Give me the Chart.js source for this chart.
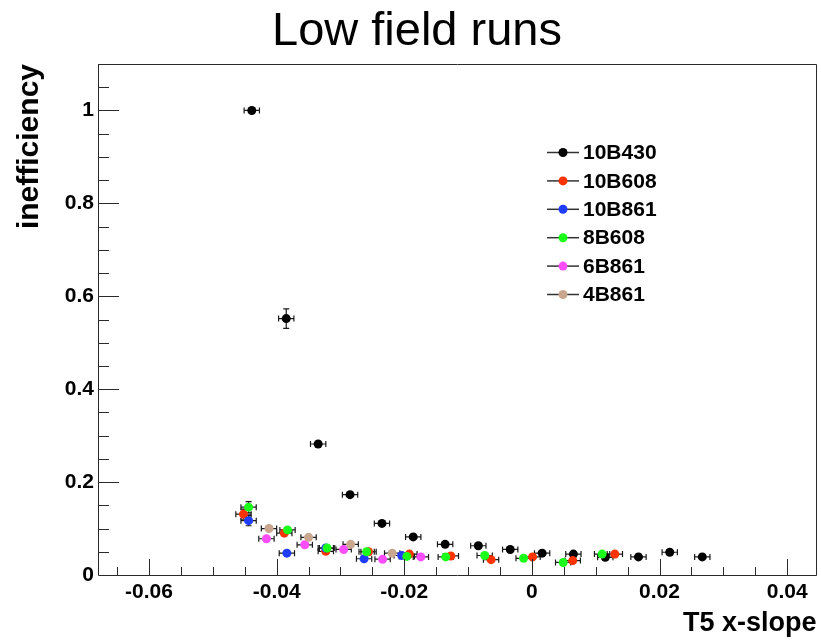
<!DOCTYPE html>
<html>
<head>
<meta charset="utf-8">
<script src="https://cdn.jsdelivr.net/npm/chart.js@4.4.0/dist/chart.umd.min.js"></script>
<style>
  body { margin: 0; background: #fff; }
  canvas { display: block; }
</style>
</head>
<body>
<canvas id="chart" width="821" height="642"></canvas>
<script>
// run names, in legend order
const seriesNames = ['10B430', '10B608', '10B861', '8B608', '6B861', '4B861'];
const seriesColors = ['#000000', '#ff3300', '#1f3dff', '#1aff1a', '#ff4dff', '#c9a78e'];

// T5 x-slope (x), inefficiency (y) and its error (yErr)
const x10B430 = [-0.0439, -0.0385, -0.0335, -0.0285, -0.0235, -0.0186, -0.0136, -0.0084, -0.0034, 0.0016, 0.0065, 0.0115, 0.0167, 0.0216, 0.0267];
const y10B430 = [1.0, 0.552, 0.282, 0.173, 0.111, 0.082, 0.066, 0.063, 0.055, 0.047, 0.045, 0.038, 0.039, 0.049, 0.039];
const e10B430 = [0.004, 0.021, 0.008, 0.006, 0.005, 0.004, 0.004, 0.004, 0.004, 0.004, 0.004, 0.004, 0.004, 0.004, 0.004];

const x10B608 = [-0.0452, -0.0388, -0.0323, -0.0256, -0.0192, -0.0127, -0.0064, 0.0001, 0.0064, 0.0130];
const y10B608 = [0.131, 0.090, 0.051, 0.050, 0.045, 0.041, 0.033, 0.039, 0.031, 0.045];
const e10B608 = [0.011, 0.006, 0.004, 0.004, 0.004, 0.004, 0.004, 0.004, 0.004, 0.004];

const x10B861 = [-0.0444, -0.0384, -0.0323, -0.0263, -0.0204];
const y10B861 = [0.117, 0.047, 0.058, 0.035, 0.042];
const e10B861 = [0.011, 0.005, 0.005, 0.004, 0.004];

const x8B608 = [-0.0444, -0.0383, -0.0321, -0.0259, -0.0196, -0.0135, -0.0074, -0.0013, 0.0049, 0.0110];
const y8B608 = [0.146, 0.097, 0.058, 0.050, 0.040, 0.039, 0.042, 0.036, 0.027, 0.045];
const e8B608 = [0.012, 0.006, 0.004, 0.004, 0.004, 0.004, 0.004, 0.004, 0.004, 0.004];

const x6B861 = [-0.0416, -0.0356, -0.0295, -0.0234, -0.0174];
const y6B861 = [0.078, 0.065, 0.055, 0.034, 0.039];
const e6B861 = [0.007, 0.005, 0.004, 0.004, 0.004];

const x4B861 = [-0.0412, -0.0350, -0.0284, -0.0219];
const y4B861 = [0.100, 0.081, 0.066, 0.047];
const e4B861 = [0.008, 0.006, 0.005, 0.004];

// half width of the x bins
const xErr = 0.0012;

const xValues = [x10B430, x10B608, x10B861, x8B608, x6B861, x4B861];
const yValues = [y10B430, y10B608, y10B861, y8B608, y6B861, y4B861];
const yErrors = [e10B430, e10B608, e10B861, e8B608, e6B861, e4B861];

// axis ticks
const xTicks = [-0.06, -0.04, -0.02, 0, 0.02, 0.04];
const yTicks = [0, 0.2, 0.4, 0.6, 0.8, 1];

const datasets = seriesNames.map((name, i) => ({
  label: name,
  data: xValues[i].map((v, j) => ({x: v, y: yValues[i][j], yErr: yErrors[i][j]})),
  backgroundColor: seriesColors[i],
  borderWidth: 0,
  pointRadius: 4.5,
  pointHoverRadius: 4.5,
  order: seriesNames.length - i
}));

// error bars, drawn under the markers
const errorBars = {
  id: 'errorBars',
  beforeDatasetsDraw(chart) {
    const {ctx, scales: {x, y}} = chart;
    ctx.save();
    ctx.strokeStyle = '#1a1a1a';
    ctx.lineWidth = 1.2;
    chart.data.datasets.forEach(ds => {
      ds.data.forEach(p => {
        const px = x.getPixelForValue(p.x);
        const py = y.getPixelForValue(p.y);
        const x0 = x.getPixelForValue(p.x - xErr);
        const x1 = x.getPixelForValue(p.x + xErr);
        const y0 = y.getPixelForValue(p.y - p.yErr);
        const y1 = y.getPixelForValue(p.y + p.yErr);
        ctx.beginPath();
        ctx.moveTo(x0, py); ctx.lineTo(x1, py);
        ctx.moveTo(x0, py - 3); ctx.lineTo(x0, py + 3);
        ctx.moveTo(x1, py - 3); ctx.lineTo(x1, py + 3);
        ctx.moveTo(px, y0); ctx.lineTo(px, y1);
        if (py - y1 > 5) {
          ctx.moveTo(px - 3, y0); ctx.lineTo(px + 3, y0);
          ctx.moveTo(px - 3, y1); ctx.lineTo(px + 3, y1);
        }
        ctx.stroke();
      });
    });
    ctx.restore();
  }
};

// frame with inward ticks, like the original plot
const frameTicks = {
  id: 'frameTicks',
  afterDraw(chart) {
    const {ctx, chartArea: a, scales: {x, y}} = chart;
    ctx.save();
    ctx.strokeStyle = '#2a2a2a';
    ctx.lineWidth = 1;
    ctx.beginPath();
    for (let k = Math.ceil(x.min / 0.005); k * 0.005 <= x.max + 1e-9; k++) {
      const v = k * 0.005;
      const px = Math.round(x.getPixelForValue(v)) + 0.5;
      const len = k % 4 === 0 ? 16 : 8;
      ctx.moveTo(px, a.bottom); ctx.lineTo(px, a.bottom - len);
    }
    for (let k = 1; k * 0.05 <= y.max + 1e-9; k++) {
      const py = Math.round(y.getPixelForValue(k * 0.05)) + 0.5;
      const len = k % 4 === 0 ? 21 : 11;
      ctx.moveTo(a.left, py); ctx.lineTo(a.left + len, py);
    }
    ctx.rect(Math.round(a.left) + 0.5, Math.round(a.top) + 0.5, Math.round(a.width) - 1, Math.round(a.height));
    ctx.stroke();
    ctx.restore();
  }
};

// legend box inside the plot
const innerLegend = {
  id: 'innerLegend',
  afterDraw(chart) {
    const {ctx} = chart;
    ctx.save();
    ctx.font = 'bold 21px "Liberation Sans", Arial, sans-serif';
    ctx.textBaseline = 'middle';
    ctx.textAlign = 'left';
    seriesNames.forEach((name, i) => {
      const ry = 152.5 + i * 28.4;
      ctx.strokeStyle = '#333';
      ctx.lineWidth = 1.5;
      ctx.beginPath();
      ctx.moveTo(547, ry); ctx.lineTo(579, ry);
      ctx.stroke();
      ctx.fillStyle = seriesColors[i];
      ctx.beginPath();
      ctx.arc(563, ry, 4.5, 0, Math.PI * 2);
      ctx.fill();
      ctx.fillStyle = '#000';
      ctx.fillText(name, 583, ry + 1);
    });
    ctx.restore();
  }
};

const tickFont = {family: '"Liberation Sans", Arial, sans-serif', size: 21, weight: 'bold'};
const xTitleFont = {family: '"Liberation Sans", Arial, sans-serif', size: 27, weight: 'bold', lineHeight: 1};
const yTitleFont = {family: '"Liberation Sans", Arial, sans-serif', size: 30, weight: 'bold', lineHeight: 1};

new Chart(document.getElementById('chart').getContext('2d'), {
  type: 'scatter',
  data: {datasets: datasets},
  options: {
    responsive: false,
    animation: false,
    events: [],
    layout: {padding: {left: 15, right: 2, top: 0, bottom: 0}},
    plugins: {
      legend: {display: false},
      tooltip: {enabled: false},
      title: {
        display: true,
        text: 'Low field runs',
        color: '#000',
        font: {family: '"Liberation Sans", Arial, sans-serif', size: 47, weight: 'normal', lineHeight: 1.2},
        padding: {top: 3.8, bottom: 3.8}
      }
    },
    scales: {
      x: {
        type: 'linear',
        min: -0.068,
        max: 0.0446,
        afterBuildTicks: s => { s.ticks = xTicks.map(v => ({value: v})); },
        afterFit: s => { s.height = 67; },
        grid: {display: false, drawTicks: false},
        border: {display: false},
        ticks: {
          color: '#000',
          font: tickFont,
          padding: 5,
          maxRotation: 0,
          autoSkip: false,
          callback: v => String(v)
        },
        title: {display: true, text: 'T5 x-slope', align: 'end', color: '#000', font: xTitleFont, padding: {top: 0, bottom: 5}}
      },
      y: {
        type: 'linear',
        min: 0,
        max: 1.1,
        afterBuildTicks: s => { s.ticks = yTicks.map(v => ({value: v})); },
        afterFit: s => { s.width = 83; },
        grid: {display: false, drawTicks: false},
        border: {display: false},
        ticks: {
          color: '#000',
          font: tickFont,
          padding: 4,
          autoSkip: false,
          callback: v => String(v)
        },
        title: {display: true, text: 'inefficiency', align: 'end', color: '#000', font: yTitleFont, padding: {top: 0, bottom: 0}}
      }
    }
  },
  plugins: [errorBars, frameTicks, innerLegend]
});
</script>
</body>
</html>
